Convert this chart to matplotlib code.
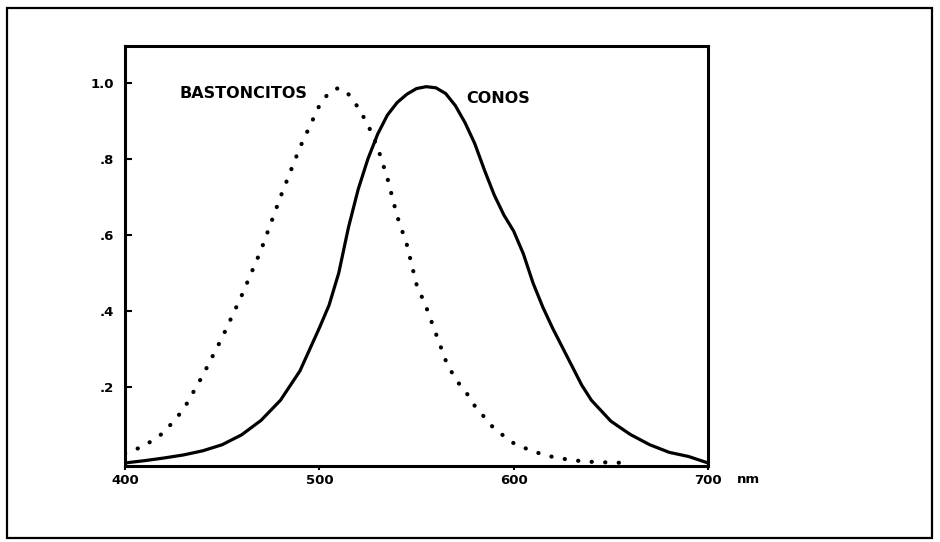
import numpy as np
import matplotlib
matplotlib.use("Agg")
import matplotlib.pyplot as plt
from matplotlib.patches import Rectangle

# longitudes de onda (nm) y sensibilidad relativa
rods_nm = [400, 410, 420, 430, 440, 450, 460, 470, 480, 490, 500, 505, 510,
           515, 520, 525, 530, 535, 540, 545, 550, 555, 560, 565, 570, 575,
           580, 590, 600, 610, 620, 630, 640, 650, 660]
rods_val = [0.025, 0.045, 0.08, 0.14, 0.23, 0.33, 0.44, 0.56, 0.70, 0.83,
            0.94, 0.975, 0.987, 0.97, 0.935, 0.89, 0.83, 0.75, 0.65, 0.575,
            0.47, 0.41, 0.34, 0.27, 0.22, 0.19, 0.15, 0.09, 0.052, 0.03,
            0.016, 0.007, 0.003, 0.001, 0.0]

cones_nm = [400, 410, 420, 430, 440, 450, 460, 470, 480, 490, 500, 505, 510,
            515, 520, 525, 530, 535, 540, 545, 550, 555, 560, 565, 570, 575,
            580, 585, 590, 595, 600, 605, 610, 615, 620, 625, 630, 635, 640,
            650, 660, 670, 680, 690, 700]
cones_val = [0.0, 0.006, 0.013, 0.021, 0.032, 0.048, 0.074, 0.112, 0.165,
             0.242, 0.355, 0.415, 0.50, 0.62, 0.72, 0.80, 0.865, 0.915, 0.948,
             0.97, 0.985, 0.99, 0.987, 0.972, 0.94, 0.895, 0.84, 0.77, 0.705,
             0.652, 0.61, 0.55, 0.473, 0.41, 0.355, 0.305, 0.255, 0.205,
             0.165, 0.11, 0.075, 0.048, 0.028, 0.017, 0.0]

x_ticks = [400, 500, 600, 700]
x_labels = ["400", "500", "600", "700"]
y_ticks = [0.2, 0.4, 0.6, 0.8, 1.0]
y_labels = [".2", ".4", ".6", ".8", "1.0"]

fig = plt.figure(figsize=(9.4, 5.42), dpi=100)
fig.patch.set_facecolor("white")

# marco exterior
fig.patches.append(Rectangle((7 / 940, 1 - 538 / 542), 925 / 940, 530 / 542,
                             transform=fig.transFigure, fill=False,
                             edgecolor="black", linewidth=1.6))

ax = fig.add_axes([125 / 940, 1 - 466 / 542, 583 / 940, 420 / 542])

ax.plot(rods_nm, rods_val, color="black", linewidth=3,
        linestyle=(0, (0.05, 3.2)), dash_capstyle="round", solid_capstyle="round")
ax.plot(cones_nm, cones_val, color="black", linewidth=2.3)

ax.set_xlim(400, 700)
ax.set_ylim(-0.008, 1.097)

for s in ax.spines.values():
    s.set_linewidth(2.2)

ax.set_xticks(x_ticks)
ax.set_xticklabels(x_labels, fontsize=9.5, fontweight="bold")
ax.set_yticks(y_ticks)
ax.set_yticklabels(y_labels, fontsize=9.5, fontweight="bold")
ax.tick_params(axis="x", direction="out", length=3, width=1.5, pad=3)
ax.tick_params(axis="y", direction="in", length=5, width=1.5, pad=8)

ax.text(0.094, 0.888, "BASTONCITOS", transform=ax.transAxes, fontsize=11.5,
        fontweight="bold", ha="left", va="center")
ax.text(0.585, 0.874, "CONOS", transform=ax.transAxes, fontsize=11.5,
        fontweight="bold", ha="left", va="center")
ax.text(1.05, -0.033, "nm", transform=ax.transAxes, fontsize=9.5,
        fontweight="bold", ha="left", va="center")

fig.savefig("out.png", dpi=100)
